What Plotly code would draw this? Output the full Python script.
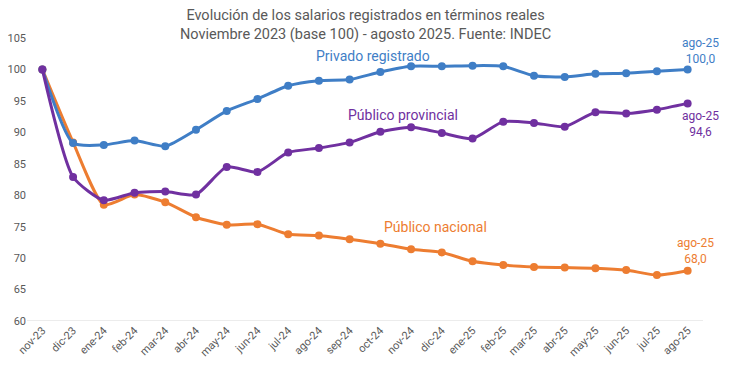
import plotly.graph_objects as go

months = ["nov-23", "dic-23", "ene-24", "feb-24", "mar-24", "abr-24", "may-24", "jun-24",
          "jul-24", "ago-24", "sep-24", "oct-24", "nov-24", "dic-24", "ene-25", "feb-25",
          "mar-25", "abr-25", "may-25", "jun-25", "jul-25", "ago-25"]

privado = [100.0, 88.3, 88.0, 88.7, 87.8, 90.4, 93.4, 95.3, 97.4, 98.2, 98.4, 99.6,
           100.5, 100.5, 100.6, 100.5, 99.0, 98.8, 99.3, 99.4, 99.7, 100.0]
provincial = [100.0, 82.9, 79.2, 80.4, 80.6, 80.1, 84.5, 83.7, 86.8, 87.5, 88.4, 90.1,
              90.8, 89.9, 89.0, 91.7, 91.5, 90.9, 93.2, 93.0, 93.6, 94.6]
nacional = [100.0, 88.4, 78.5, 80.1, 78.9, 76.5, 75.3, 75.4, 73.8, 73.6, 73.0, 72.3,
            71.4, 70.9, 69.5, 68.9, 68.6, 68.5, 68.4, 68.1, 67.3, 68.0]

series = [
    ("Público nacional", nacional, "#ED7D31"),
    ("Privado registrado", privado, "#3F7EC6"),
    ("Público provincial", provincial, "#7030A0"),
]

FONT = "Roboto"
GRAY = "#595959"

fig = go.Figure()
for name, vals, color in series:
    fig.add_trace(go.Scatter(
        x=months, y=vals, name=name, mode="lines+markers",
        line=dict(color=color, width=3, shape="spline", smoothing=0.6),
        marker=dict(color=color, size=8),
        showlegend=False,
    ))

# series labels
fig.add_annotation(x=months[11], y=102.1, xshift=-7, text="Privado registrado", showarrow=False,
                   font=dict(family=FONT, size=14, color="#3F7EC6"), xanchor="center")
fig.add_annotation(x=months[12], y=92.75, xshift=-8, text="Público provincial", showarrow=False,
                   font=dict(family=FONT, size=14, color="#7030A0"), xanchor="center")
fig.add_annotation(x=months[13], y=74.9, xshift=-6, text="Público nacional", showarrow=False,
                   font=dict(family=FONT, size=14, color="#ED7D31"), xanchor="center")

# end labels
last = months[-1]
fig.add_annotation(x=last, y=privado[-1], text="ago-25<br>100,0", showarrow=False,
                   yshift=18, xshift=13, font=dict(family=FONT, size=12, color="#3F7EC6"))
fig.add_annotation(x=last, y=provincial[-1], text="ago-25<br>94,6", showarrow=False,
                   yshift=-21, xshift=13, font=dict(family=FONT, size=12, color="#7030A0"))
fig.add_annotation(x=last, y=nacional[-1], text="ago-25<br>68,0", showarrow=False,
                   yshift=20, xshift=8, font=dict(family=FONT, size=12, color="#ED7D31"))

# title
fig.add_annotation(xref="paper", yref="paper", x=0.5, y=1.0, yshift=33, yanchor="top",
                   xanchor="center", showarrow=False,
                   text="Evolución de los salarios registrados en términos reales<br>Noviembre 2023 (base 100) - agosto 2025. Fuente: INDEC",
                   font=dict(family=FONT, size=14.5, color=GRAY))

fig.update_layout(
    width=730, height=369,
    margin=dict(l=27, r=27, t=38, b=48),
    paper_bgcolor="white", plot_bgcolor="white",
    font=dict(family=FONT, color=GRAY),
    xaxis=dict(
        type="category", range=[-0.5, 21.5], tickangle=-45, automargin=False,
        tickfont=dict(family=FONT, size=11, color=GRAY),
        showgrid=False, showline=False, zeroline=False, ticks="",
    ),
    yaxis=dict(
        range=[60, 105], dtick=5, tick0=60, automargin=False,
        tickfont=dict(family=FONT, size=11, color=GRAY),
        showgrid=False, zeroline=False, showline=False, ticks="",
    ),
)
fig.add_shape(type="line", xref="paper", yref="y", x0=0, x1=1, y0=60, y1=60,
              line=dict(color="#D9D9D9", width=1), layer="below")

fig.write_html("out.html", config={"displayModeBar": False},
               post_script="document.body.style.margin='0';document.body.style.overflow='hidden';")
